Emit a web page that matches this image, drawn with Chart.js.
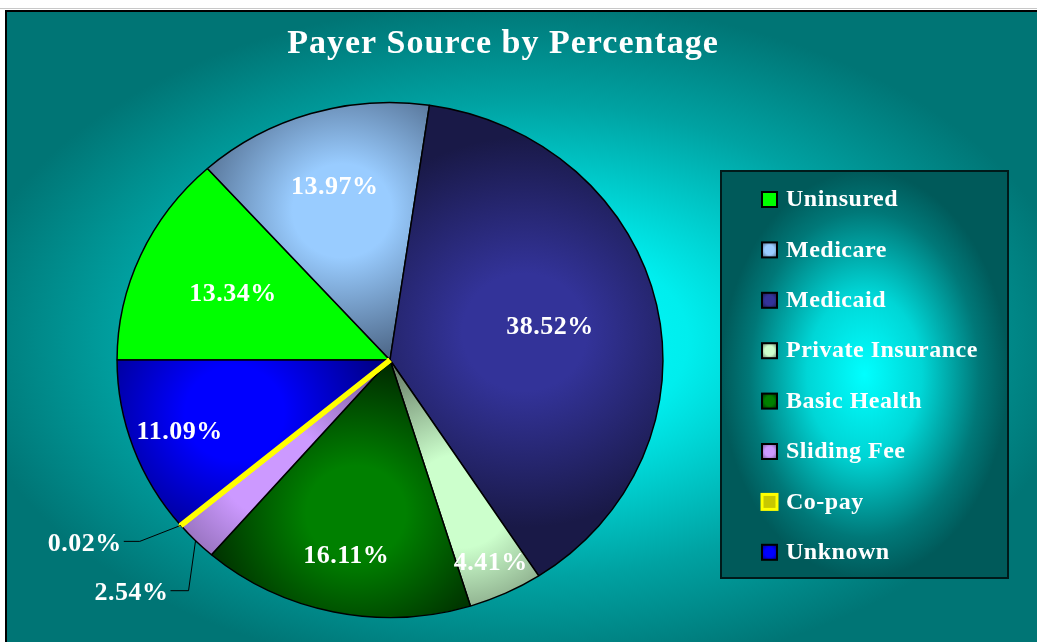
<!DOCTYPE html>
<html>
<head>
<meta charset="utf-8">
<script src="https://cdn.jsdelivr.net/npm/chart.js@4.4.0/dist/chart.umd.min.js"></script>
<style>
  html, body { margin: 0; padding: 0; background: #fff; }
  canvas { display: block; }
</style>
</head>
<body>
<canvas id="chart" width="1037" height="642"></canvas>
<script>
const categories = ['Uninsured', 'Medicare', 'Medicaid', 'Private Insurance', 'Basic Health', 'Sliding Fee', 'Co-pay', 'Unknown'];
const percentages = [13.34, 13.97, 38.52, 4.41, 16.11, 2.54, 0.02, 11.09];
const sliceColors = ['#00ff00', '#99ccff', '#333399', '#ccffcc', '#008000', '#cc99ff', '#ffff00', '#0000ff'];
const sliceShades = ['#00ff00', '#4a6383', '#191947', '#5f735f', '#002600', '#6a5288', '#ffff00', '#000078'];

const SERIF = '"Liberation Serif", "Times New Roman", serif';
const SX = 1.06; // the original pie is a little wider than tall

function sliceFill(ctx) {
  const i = ctx.dataIndex;
  const area = ctx.chart.chartArea;
  if (!area || sliceColors[i] === sliceShades[i]) return sliceColors[i];
  const cx = (area.left + area.right) / 2, cy = (area.top + area.bottom) / 2;
  const r = Math.min(area.right - area.left, area.bottom - area.top) / 2;
  const total = percentages.reduce((a, b) => a + b, 0);
  let start = Math.PI;
  for (let k = 0; k < i; k++) start += percentages[k] / total * 2 * Math.PI;
  const sweep = percentages[i] / total * 2 * Math.PI;
  const mid = start + sweep / 2;
  const big = sweep > 2;
  const d = r * (big ? 0.5 : 0.6);
  const gx = cx + Math.cos(mid) * d, gy = cy + Math.sin(mid) * d;
  const g = ctx.chart.ctx.createRadialGradient(gx, gy, 0, gx, gy, r * (big ? 0.75 : 0.6));
  g.addColorStop(0, sliceColors[i]);
  g.addColorStop(0.3, sliceColors[i]);
  g.addColorStop(1, sliceShades[i]);
  return g;
}

// fills a rectangle with an elliptical centre-out gradient
function fillCentreGradient(ctx, x, y, w, h, cx, cy, rx, ry, stops) {
  ctx.save();
  ctx.translate(cx, cy);
  ctx.scale(rx / ry, 1);
  const g = ctx.createRadialGradient(0, 0, 0, 0, 0, ry);
  stops.forEach(s => g.addColorStop(s[0], s[1]));
  ctx.fillStyle = g;
  const k = ry / rx;
  ctx.fillRect((x - cx) * k, y - cy, w * k, h);
  ctx.restore();
}

const labelRadius = [0.63, 0.7, 0.6, 0.87, 0.78, 0, 0, 0.82];

const payerDecor = {
  id: 'payerDecor',
  beforeDraw(chart) {
    const ctx = chart.ctx;
    ctx.save();
    ctx.fillStyle = '#ffffff';
    ctx.fillRect(0, 0, chart.width, chart.height);
    ctx.fillStyle = '#c8c8c8';
    ctx.fillRect(0, 8, chart.width, 1);
    fillCentreGradient(ctx, 5, 10, chart.width - 5, chart.height - 10, 520, 340, 560, 340,
      [[0, '#00ffff'], [0.3, '#00eeee'], [0.7, '#00a2a2'], [1, '#007575']]);
    ctx.strokeStyle = '#000';
    ctx.lineWidth = 2;
    ctx.beginPath();
    ctx.moveTo(6, chart.height);
    ctx.lineTo(6, 11);
    ctx.lineTo(chart.width, 11);
    ctx.stroke();
    ctx.restore();
  },
  beforeDatasetsDraw(chart) {
    const a = chart.chartArea;
    const cx = (a.left + a.right) / 2;
    chart.ctx.save();
    chart.ctx.translate(cx, 0);
    chart.ctx.scale(SX, 1);
    chart.ctx.translate(-cx, 0);
  },
  afterDatasetsDraw(chart) {
    const ctx = chart.ctx;
    const meta = chart.getDatasetMeta(0);
    // the co-pay sliver is drawn again so its yellow edge sits on top of its neighbours
    const thin = percentages.indexOf(Math.min(...percentages));
    meta.data[thin].draw(ctx);
    ctx.restore();

    ctx.save();
    ctx.fillStyle = '#ffffff';
    ctx.font = 'bold 26px ' + SERIF;
    ctx.letterSpacing = '0.5px';
    ctx.textBaseline = 'middle';
    meta.data.forEach((arc, i) => {
      const p = arc.getProps(['x', 'y', 'startAngle', 'endAngle', 'outerRadius'], true);
      const mid = (p.startAngle + p.endAngle) / 2;
      const txt = percentages[i].toFixed(2) + '%';
      if (labelRadius[i] > 0) {
        const f = labelRadius[i];
        ctx.textAlign = 'center';
        ctx.fillText(txt, p.x + Math.cos(mid) * p.outerRadius * f * SX, p.y + Math.sin(mid) * p.outerRadius * f);
        return;
      }
      // small slices: label outside with an elbow leader line
      const ex = p.x + Math.cos(mid) * p.outerRadius * SX;
      const ey = p.y + Math.sin(mid) * p.outerRadius;
      const elbow = percentages[i] < 1 ? [-41, 16] : [-7, 50];
      const run = percentages[i] < 1 ? 16 : 18;
      const bx = ex + elbow[0], by = ey + elbow[1];
      ctx.strokeStyle = '#000';
      ctx.lineWidth = 1;
      ctx.beginPath();
      ctx.moveTo(ex, ey);
      ctx.lineTo(bx, by);
      ctx.lineTo(bx - run, by);
      ctx.stroke();
      ctx.textAlign = 'right';
      ctx.fillText(txt, bx - run - 2, by + 3);
    });
    ctx.restore();
  },
  afterDraw(chart) {
    const ctx = chart.ctx;
    ctx.save();
    ctx.fillStyle = '#ffffff';
    ctx.font = 'bold 34px ' + SERIF;
    ctx.letterSpacing = '1px';
    ctx.textAlign = 'center';
    ctx.textBaseline = 'middle';
    ctx.fillText('Payer Source by Percentage', 503, 44);
    ctx.restore();

    // legend box
    const L = 721, T = 171, W = 287, H = 407;
    ctx.save();
    fillCentreGradient(ctx, L, T, W, H, L + W / 2, T + H / 2, W / 2, H / 2,
      [[0, '#00ffff'], [0.4, '#00d6d6'], [0.8, '#007878'], [1, '#005a5a']]);
    ctx.strokeStyle = '#001a1a';
    ctx.lineWidth = 2;
    ctx.strokeRect(L, T, W, H);
    ctx.font = 'bold 24px ' + SERIF;
    ctx.letterSpacing = '0.5px';
    ctx.textBaseline = 'middle';
    ctx.textAlign = 'left';
    categories.forEach((name, i) => {
      const y = 199 + i * 50.4;
      const bx = 762, by = y - 7, s = 15;
      if (sliceColors[i] === '#ffff00') {
        ctx.fillStyle = '#c8c800';
        ctx.fillRect(bx, by, s, s);
        ctx.strokeStyle = '#ffff00';
        ctx.lineWidth = 3;
        ctx.strokeRect(bx, by, s, s);
      } else {
        const g = ctx.createRadialGradient(bx + s / 2, by + s / 2, 0, bx + s / 2, by + s / 2, s * 0.7);
        g.addColorStop(0, sliceColors[i]);
        g.addColorStop(0.45, sliceColors[i]);
        g.addColorStop(1, sliceShades[i]);
        ctx.fillStyle = g;
        ctx.fillRect(bx, by, s, s);
        ctx.strokeStyle = '#000';
        ctx.lineWidth = 2;
        ctx.strokeRect(bx, by, s, s);
      }
      ctx.fillStyle = '#ffffff';
      ctx.fillText(name, 786, y + 1);
    });
    ctx.restore();
  }
};

new Chart(document.getElementById('chart'), {
  type: 'pie',
  data: {
    labels: categories,
    datasets: [{
      data: percentages,
      backgroundColor: sliceFill,
      borderColor: sliceColors.map(c => c === '#ffff00' ? '#ffff00' : '#000000'),
      borderWidth: sliceColors.map(c => c === '#ffff00' ? 5 : 1.4)
    }]
  },
  options: {
    responsive: false,
    animation: false,
    events: [],
    rotation: 270,
    layout: { padding: { left: 130, right: 387, top: 100, bottom: 22 } },
    plugins: {
      legend: { display: false },
      tooltip: { enabled: false },
      title: { display: false }
    }
  },
  plugins: [payerDecor]
});
</script>
</body>
</html>
